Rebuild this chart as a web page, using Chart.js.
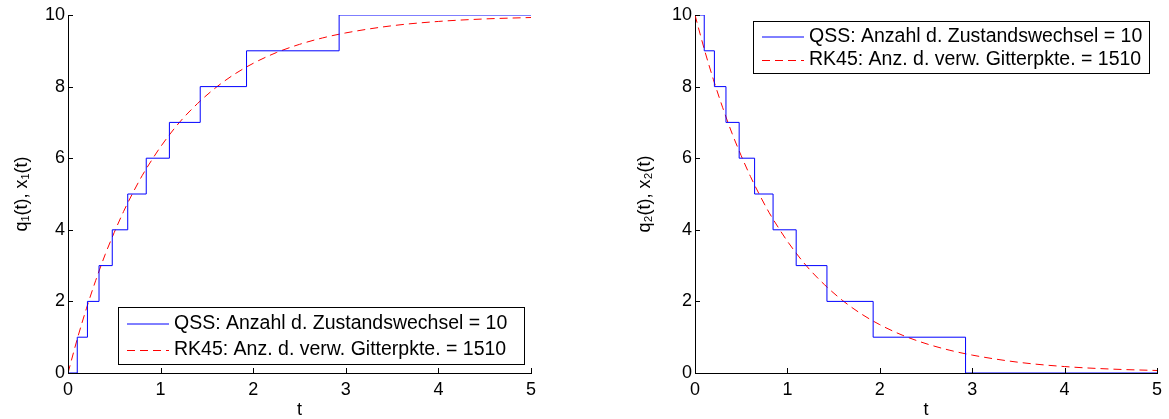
<!DOCTYPE html>
<html>
<head>
<meta charset="utf-8">
<script src="https://cdn.jsdelivr.net/npm/chart.js@4/dist/chart.umd.min.js"></script>
<style>
  html, body { margin: 0; padding: 0; background: #fff; }
  #wrap { position: relative; width: 1169px; height: 419px; }
  canvas { position: absolute; top: 0; }
</style>
</head>
<body>
<div id="wrap">
  <canvas id="left" width="584" height="419" style="left:0"></canvas>
  <canvas id="right" width="585" height="419" style="left:584px"></canvas>
</div>
<script>
// QSS: Zeitpunkte der Zustandswechsel und quantisierte Werte
var qssTimes = [0, 0.1, 0.21, 0.335, 0.478, 0.645, 0.845, 1.095, 1.428, 1.928, 2.928, 5];
var q1Values = [0, 1, 2, 3, 4, 5, 6, 7, 8, 9, 10, 10];
var q2Values = [10, 9, 8, 7, 6, 5, 4, 3, 2, 1, 0, 0];

// RK45 Loesung
var rkTimes = [0, 0.1, 0.2, 0.3, 0.4, 0.5, 0.6, 0.7, 0.8, 0.9, 1.0, 1.2, 1.4, 1.6, 1.8, 2.0, 2.25, 2.5, 2.75, 3.0, 3.5, 4.0, 4.5, 5.0];
var x1Values = [0, 0.95, 1.81, 2.59, 3.30, 3.93, 4.51, 5.03, 5.51, 5.93, 6.32, 6.99, 7.53, 7.98, 8.35, 8.65, 8.95, 9.18, 9.36, 9.50, 9.70, 9.82, 9.89, 9.93];
var x2Values = [10, 9.05, 8.19, 7.41, 6.70, 6.07, 5.49, 4.97, 4.49, 4.07, 3.68, 3.01, 2.47, 2.02, 1.65, 1.35, 1.05, 0.82, 0.64, 0.50, 0.30, 0.18, 0.11, 0.07];

var xTicks = [0, 1, 2, 3, 4, 5];
var yTicks = [0, 2, 4, 6, 8, 10];
var qssLabel = 'QSS: Anzahl d. Zustandswechsel = 10';
var rkLabel = 'RK45: Anz. d. verw. Gitterpkte. = 1510';

Chart.defaults.font.family = '"Liberation Sans", Arial, sans-serif';
Chart.defaults.font.size = 18;
Chart.defaults.color = '#000';

function points(xs, ys) {
    var out = [];
    for (var i = 0; i < xs.length; i++) {
        out.push({x: xs[i], y: ys[i]});
    }
    return out;
}

// kleine Striche nach innen, wie bei MATLAB
var innerTicks = {
    id: 'innerTicks',
    afterDatasetsDraw: function(chart) {
        var ctx = chart.ctx, a = chart.chartArea;
        var sx = chart.scales.x, sy = chart.scales.y;
        ctx.save();
        ctx.strokeStyle = '#000';
        ctx.lineWidth = 1;
        ctx.beginPath();
        xTicks.forEach(function(v) {
            var px = Math.round(sx.getPixelForValue(v)) + 0.5;
            ctx.moveTo(px, a.bottom);
            ctx.lineTo(px, a.bottom - 5);
        });
        yTicks.forEach(function(v) {
            var py = Math.round(sy.getPixelForValue(v)) + 0.5;
            ctx.moveTo(a.left, py);
            ctx.lineTo(a.left + 5, py);
        });
        ctx.stroke();
        ctx.restore();
    }
};

// Legende mit Rahmen innerhalb der Achsen
var boxLegend = {
    id: 'boxLegend',
    afterDraw: function(chart, args, opts) {
        var ctx = chart.ctx;
        ctx.save();
        ctx.fillStyle = '#fff';
        ctx.fillRect(opts.left, opts.top, opts.width, opts.height);
        ctx.strokeStyle = '#000';
        ctx.lineWidth = 1;
        ctx.strokeRect(opts.left + 0.5, opts.top + 0.5, opts.width, opts.height);
        ctx.font = '19.5px "Liberation Sans", Arial, sans-serif';
        ctx.textBaseline = 'middle';
        chart.data.datasets.forEach(function(ds, i) {
            var y = opts.rows[i];
            ctx.strokeStyle = ds.borderColor;
            ctx.setLineDash(ds.borderDash || []);
            ctx.beginPath();
            ctx.moveTo(opts.left + 9, y + 0.5);
            ctx.lineTo(opts.left + 51, y + 0.5);
            ctx.stroke();
            ctx.setLineDash([]);
            ctx.fillStyle = '#000';
            ctx.fillText(ds.label, opts.left + 56, y);
        });
        ctx.restore();
    }
};

function makeChart(id, qValues, xValues, yLabel, pad, yWidth, legend) {
    var ctx = document.getElementById(id).getContext('2d');
    return new Chart(ctx, {
        type: 'line',
        data: {
            datasets: [{
                label: qssLabel,
                data: points(qssTimes, qValues),
                borderColor: '#0000ff',
                borderWidth: 1,
                stepped: true,
                pointRadius: 0
            }, {
                label: rkLabel,
                data: points(rkTimes, xValues),
                borderColor: '#ff0000',
                borderWidth: 1,
                borderDash: [8, 5],
                cubicInterpolationMode: 'monotone',
                pointRadius: 0
            }]
        },
        options: {
            responsive: false,
            animation: false,
            events: [],
            layout: {padding: pad},
            plugins: {
                legend: {display: false},
                tooltip: {enabled: false},
                boxLegend: legend
            },
            scales: {
                x: {
                    type: 'linear',
                    min: 0, max: 5,
                    afterFit: function(s) { s.height = 46; },
                    afterBuildTicks: function(s) { s.ticks = xTicks.map(function(v) { return {value: v}; }); },
                    grid: {display: false, drawTicks: false},
                    border: {display: true, color: '#000', width: 1},
                    ticks: {padding: 6, maxRotation: 0},
                    title: {display: true, text: 't', font: {size: 18, lineHeight: 1}, padding: 0}
                },
                y: {
                    type: 'linear',
                    min: 0, max: 10,
                    afterFit: function(s) { s.width = yWidth; },
                    afterBuildTicks: function(s) { s.ticks = yTicks.map(function(v) { return {value: v}; }); },
                    grid: {display: false, drawTicks: false},
                    border: {display: true, color: '#000', width: 1},
                    ticks: {padding: 3},
                    title: {display: true, text: yLabel, font: {size: 18, lineHeight: 1}, padding: {top: 13, bottom: 0}}
                }
            }
        },
        plugins: [innerTicks, boxLegend]
    });
}

makeChart('left', q1Values, x1Values, 'q\u2081(t), x\u2081(t)',
    {top: 15, right: 53, bottom: 0, left: 0}, 68,
    {left: 118, top: 307, width: 406, height: 57, rows: [323.5, 350]});

makeChart('right', q2Values, x2Values, 'q\u2082(t), x\u2082(t)',
    {top: 15, right: 12, bottom: 0, left: 39}, 72,
    {left: 169, top: 21, width: 396, height: 52, rows: [36.5, 60]});
</script>
</body>
</html>
